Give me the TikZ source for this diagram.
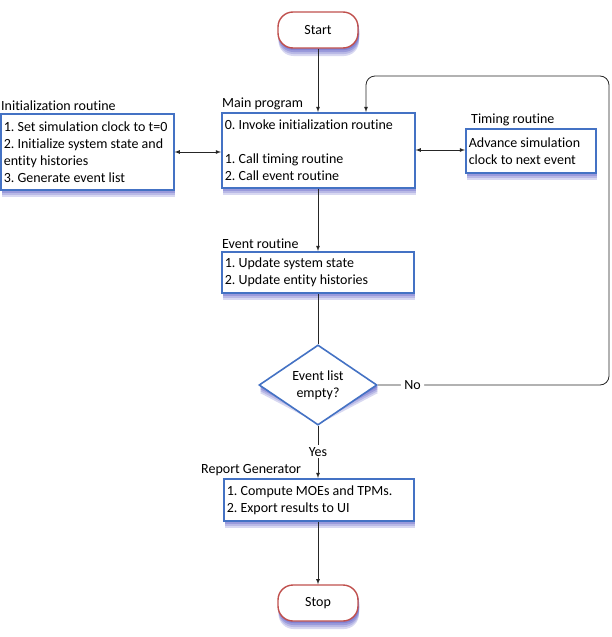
\documentclass[tikz,border=0pt]{standalone}
\usepackage{fontspec}
\setmainfont{Carlito}[Ligatures=NoCommon]
\usetikzlibrary{shapes.geometric,arrows}

\definecolor{boxblue}{RGB}{68,114,196}
\definecolor{termred}{RGB}{192,80,77}
\definecolor{shadeblue}{RGB}{100,100,200}

\tikzset{
	proc/.style={draw=boxblue, line width=1.6pt, fill=white, anchor=north west,
		align=flush left, inner xsep=3pt, inner ysep=3pt},
	term/.style={draw=termred, line width=1.4pt, fill=white, rounded corners=15pt,
		minimum width=80pt, minimum height=36pt},
	decide/.style={diamond, draw=boxblue, line width=1.6pt, fill=white, align=center,
		minimum width=118pt, minimum height=62pt, inner sep=0pt},
	title/.style={anchor=south west, inner sep=1pt, yshift=1pt},
	link/.style={draw=black!85, line width=0.8pt}
}

\begin{document}
\frenchspacing
\begin{tikzpicture}[x=1pt,y=-1pt,>=latex,font=\fontsize{14}{17}\selectfont]
		\useasboundingbox (0,0) rectangle (612,637);
		%\draw [help lines, step=50] (0,0) grid (612,637);

		% soft bluish shadows, drawn first
		\foreach \dy/\tint in {8/25, 6/45, 4/65, 2/80} {
			\foreach \ax/\ay/\bx/\by in {0/113/173/189, 221/112/414/187, 465/128/595/172,
					221/251/413/292, 223/478/413/520}
				\fill [shadeblue!\tint] (\ax+1.5,\ay+\dy) rectangle (\bx+1.5,\by+\dy);
			\foreach \ay in {12,585}
				\fill [shadeblue!\tint, rounded corners=15pt] (278.5,\ay+\dy) rectangle (359,\ay+36+\dy);
			\fill [shadeblue!\tint] (319,354+\dy) -- (378,385+\dy) -- (319,416+\dy) -- (260,385+\dy) -- cycle;
		}

		\node [term] (start) at (318,30) {Start};

		\node [proc, text width=187pt, minimum height=75pt,
			label={[title]north west:Main program}] (main) at (221,112)
			{\mbox{0. Invoke initialization routine}\\[17pt]1. Call timing routine\\2. Call event routine};
		\node [proc, text width=167pt, minimum height=76pt,
			label={[title]north west:Initialization routine}] (init) at (0,113)
			{\mbox{1. Set simulation clock to t=0}\\\mbox{2. Initialize system state and}\\entity histories\\3. Generate event list};
		\node [proc, text width=124pt, minimum height=44pt,
			label={[title, xshift=5pt]north west:Timing routine}] (timing) at (465,128)
			{\mbox{Advance simulation}\\\mbox{clock to next event}};

		\node [proc, text width=186pt, minimum height=41pt,
			label={[title]north west:Event routine}] (event) at (221,251)
			{1. Update system state\\2. Update entity histories};
		\node [decide] (empty) at (318,385) {Event list\\empty?};
		\node [proc, text width=184pt, minimum height=42pt,
			label={[title, xshift=-23pt]north west:Report Generator}] (report) at (223,478)
			{\mbox{1. Compute MOEs and TPMs.}\\2. Export results to UI};

		\node [term] (stop) at (318,603) {Stop};

		\coordinate (noturn) at (609,385);
		\coordinate (topturn) at (609,76);
		\coordinate (loopin) at (366,76);

		\draw [link, ->] (start) -- (start |- main.north);
		\draw [link, <->] (init.east |- 0,152) -- (main.west |- 0,152);
		\draw [link, <->] (main.east |- 0,150) -- (timing.west |- 0,150);
		\draw [link, ->] (main.south -| start) -- (event.north -| start);
		\draw [link] (event.south -| start) -- (empty.north);
		\draw [link, ->] (empty.south) -- node [fill=white, inner sep=2pt] {Yes} (report.north -| start);
		\draw [link, ->] (report.south -| start) -- (stop.north);
		\draw [link, ->, rounded corners=9pt] (empty.east) -- node [fill=white, pos=0.15] {No}
			(noturn) -- (topturn) -- (loopin) -- (loopin |- main.north);
	\end{tikzpicture}
\end{document}
